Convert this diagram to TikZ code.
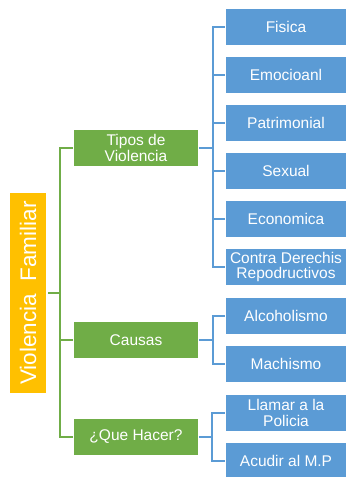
\documentclass[tikz,border=0pt]{standalone}
\usepackage{fontspec}
\setmainfont{Liberation Sans}
\definecolor{vgreen}{HTML}{70AD47}
\definecolor{vblue}{HTML}{5B9BD5}
\definecolor{vorange}{HTML}{FFC000}
\tikzset{
  bluebox/.style={fill=vblue, draw=white, line width=0.6pt, text=white, minimum width=121pt, minimum height=37pt, inner sep=1pt, align=center, font=\fontsize{15.5}{15.5}\selectfont},
  greenbox/.style={fill=vgreen, draw=white, line width=0.6pt, text=white, minimum width=125pt, minimum height=37pt, inner sep=1pt, align=center, font=\fontsize{15.5}{15.5}\selectfont},
  rootbox/.style={fill=vorange, text=white, minimum width=200pt, minimum height=36pt, inner sep=1pt, rotate=90, font=\fontsize{22.5}{24}\selectfont},
  gline/.style={draw=vgreen, line width=2pt},
  bline/.style={draw=vblue, line width=2.4pt},
}
\begin{document}
\begin{tikzpicture}[x=1pt,y=-1pt]
\useasboundingbox (0,0) rectangle (347,477);
\node[rootbox] (root) at (28,293) {Violencia\ \ Familiar};
\node[greenbox] (tipos) at (136,148) {Tipos de\\Violencia};
\node[greenbox] (causas) at (136,340) {Causas};
\node[greenbox] (hacer) at (136,437) {¿Que Hacer?};
\node[bluebox] (fisica) at (286,27) {Fisica};
\node[bluebox] (emoc) at (286,75) {Emocioanl};
\node[bluebox] (patri) at (286,123) {Patrimonial};
\node[bluebox] (sexual) at (286,171) {Sexual};
\node[bluebox] (econ) at (286,219) {Economica};
\node[bluebox] (contra) at (286,267) {Contra Derechis\\Repodructivos};
\node[bluebox] (alco) at (286,316) {Alcoholismo};
\node[bluebox] (mach) at (286,364) {Machismo};
\node[bluebox] (llamar) at (286,413) {Llamar a la\\Policia};
\node[bluebox] (acudir) at (286,461) {Acudir al M.P};
% green connectors
\coordinate (rj) at (60,293);
\draw[gline] ([xshift=2pt]root.south) -- (rj);
\draw[gline] (tipos.west) -| (rj);
\draw[gline] (causas.west) -| (rj);
\draw[gline] (hacer.west) -| (rj);
% blue connectors
\coordinate (tj) at (213,148);
\draw[bline] (tipos.east) -- (tj);
\foreach \n in {fisica,emoc,patri,sexual,econ,contra} \draw[bline] (tj) |- (\n.west);
\coordinate (cj) at (213,340);
\draw[bline] (causas.east) -- (cj);
\foreach \n in {alco,mach} \draw[bline] (cj) |- (\n.west);
\coordinate (hj) at (212,437);
\draw[bline] (hacer.east) -- (hj);
\foreach \n in {llamar,acudir} \draw[bline] (hj) |- (\n.west);
\end{tikzpicture}
\end{document}
